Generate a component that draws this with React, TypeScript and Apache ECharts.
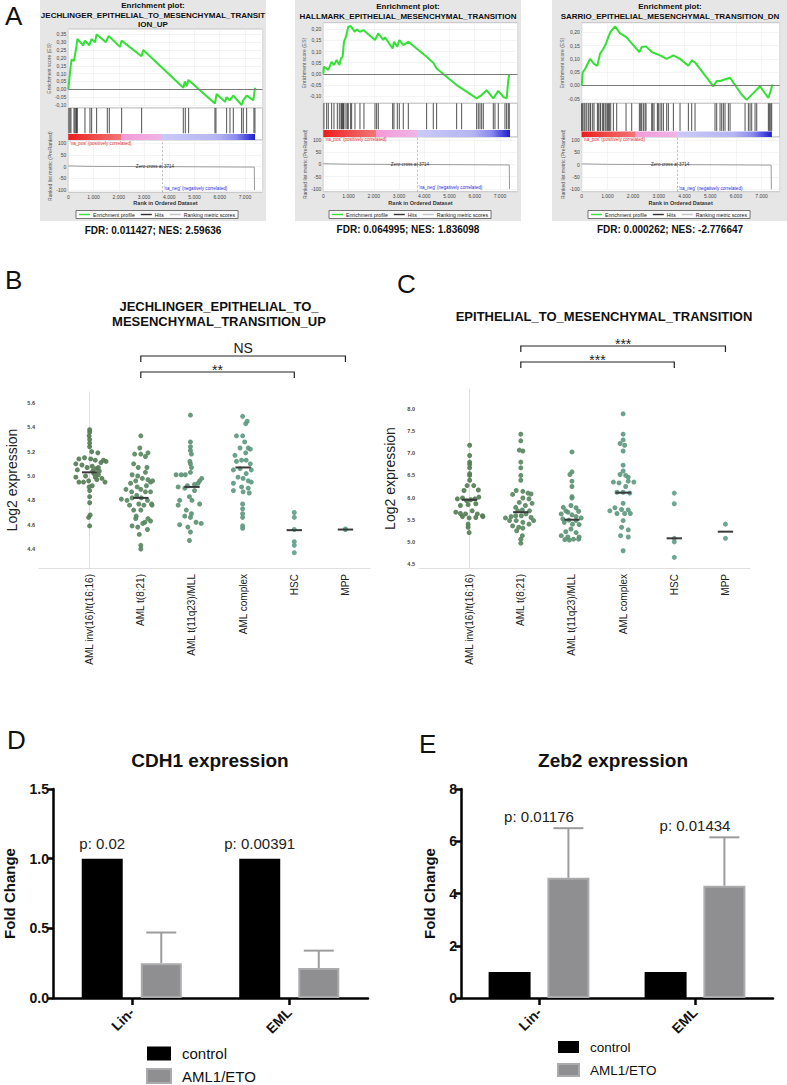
import React, { useEffect, useRef } from 'react';
import * as echarts from 'echarts';

const FONT = "'Liberation Sans', Arial, Helvetica, sans-serif";

// ================= Panel A : GSEA enrichment plots =================
const gseaTitles = [
  'Enrichment plot:\nJECHLINGER_EPITHELIAL_TO_MESENCHYMAL_TRANSIT\nION_UP',
  'Enrichment plot:\nHALLMARK_EPITHELIAL_MESENCHYMAL_TRANSITION',
  'Enrichment plot:\nSARRIO_EPITHELIAL_MESENCHYMAL_TRANSITION_DN',
];
const gseaStats = [
  'FDR: 0.011427; NES: 2.59636',
  'FDR: 0.064995; NES: 1.836098',
  'FDR: 0.000262; NES: -2.776647',
];
const esTicks1 = [-0.1, -0.05, 0, 0.05, 0.1, 0.15, 0.2, 0.25, 0.3, 0.35];
const esTicks2 = [-0.1, -0.05, 0, 0.05, 0.1, 0.15, 0.2];
const esTicks3 = [-0.05, 0, 0.05, 0.1, 0.15, 0.2];
const metricTicks = [-100, -50, 0, 50, 100];
const rankListSize = 7400;
const zeroCross = 3714;

const es1Rank = [0, 90, 130, 220, 300, 360, 590, 660, 830, 920, 1060, 1120, 1490, 1600, 2050, 2110, 2900, 2970, 4560, 4620, 4690, 4760, 5810, 5880, 6210, 6270, 6400, 6540, 6870, 6930, 7070, 7330, 7400];
const es1Score = [0, 0.14, 0.19, 0.18, 0.25, 0.32, 0.28, 0.31, 0.28, 0.32, 0.3, 0.35, 0.3, 0.34, 0.27, 0.31, 0.21, 0.25, 0.01, 0.05, 0.02, 0.06, -0.09, -0.03, -0.08, -0.05, -0.07, -0.04, -0.1, -0.07, -0.04, -0.07, 0.01];
const es2Rank = [0, 26, 198, 330, 423, 528, 634, 700, 766, 819, 898, 991, 1083, 1255, 1321, 1453, 1585, 2047, 2180, 2378, 2444, 2748, 2800, 2933, 3012, 3170, 3369, 4095, 4161, 4359, 4491, 5284, 5482, 6077, 6275, 6473, 6737, 6935, 7133, 7265, 7331, 7370];
const es2Score = [0, 0.032, 0.017, 0.054, 0.039, 0.062, 0.039, 0.069, 0.077, 0.144, 0.167, 0.212, 0.215, 0.189, 0.2, 0.189, 0.197, 0.152, 0.182, 0.152, 0.164, 0.114, 0.144, 0.122, 0.152, 0.129, 0.144, 0.077, 0.069, 0.05, 0.024, -0.051, -0.066, -0.111, -0.096, -0.074, -0.111, -0.077, -0.104, -0.111, -0.029, -0.002];
const es3Rank = [0, 39, 130, 195, 324, 480, 610, 713, 843, 947, 1038, 1128, 1297, 1492, 1725, 1946, 2244, 2335, 2503, 2724, 3048, 3307, 3567, 3826, 4150, 4280, 4410, 5123, 5253, 5383, 5772, 6226, 6420, 6550, 6745, 6939, 7263, 7354, 7420];
const es3Score = [0, 0.049, 0.062, 0.074, 0.1, 0.081, 0.074, 0.119, 0.138, 0.158, 0.183, 0.203, 0.222, 0.196, 0.183, 0.158, 0.126, 0.145, 0.147, 0.126, 0.113, 0.1, 0.113, 0.1, 0.074, 0.094, 0.087, -0.003, 0.017, 0.017, 0.029, -0.035, -0.054, -0.041, -0.022, -0.003, -0.047, -0.02, 0.004];

const hits1 = [26, 66, 106, 225, 264, 304, 330, 357, 660, 859, 925, 1123, 1546, 1625, 2114, 2906, 4557, 4637, 4769, 5812, 5852, 6275, 6407, 6539, 6869, 6935, 7067, 7357, 7397];
const hits2 = [26, 132, 198, 330, 423, 555, 634, 700, 727, 766, 793, 819, 898, 951, 991, 1083, 1123, 1255, 1453, 1612, 2048, 2114, 2180, 2748, 2801, 2933, 3012, 3170, 3369, 4095, 4359, 4491, 5284, 5482, 6077, 6143, 6209, 6275, 6341, 6737, 6803, 6935, 7199, 7265, 7331, 7371];
const hits3 = [0, 39, 91, 130, 195, 259, 324, 350, 428, 480, 610, 648, 713, 739, 817, 843, 908, 947, 999, 1038, 1077, 1128, 1232, 1362, 1725, 1946, 2244, 2296, 2335, 2399, 2464, 2503, 2724, 2763, 2815, 2944, 2983, 3048, 3113, 3178, 3307, 3372, 3567, 3826, 4150, 4280, 4410, 5188, 5253, 5383, 5447, 5512, 5577, 5707, 5772, 6356, 6485, 6550, 6615, 6745, 6810, 7263, 7302, 7354, 7393];

const metricRank = [0, 1000, 3714, 7370, 7380];
const metricValue = [3, 1, 0, -2, -100];
const metricNotes = ["'na_pos' (positively correlated)", 'Zero cross at 3714', "'na_neg' (negatively correlated)"];
const metricNoteRank = [0, 3714, 3714];
const metricNoteValue = [100, 0, -95];

// ================= Panels B / C : expression strip plots =================
const stripCategories = ['AML inv(16)/t(16;16)', 'AML t(8;21)', 'AML t(11q23)/MLL', 'AML complex', 'HSC', 'MPP'];
const bTicks = [4.4, 4.6, 4.8, 5.0, 5.2, 5.4, 5.6];
const cTicks = [4.5, 5.0, 5.5, 6.0, 6.5, 7.0, 7.5, 8.0];

const bVal0 = [5.38, 5.36, 5.33, 5.3, 5.27, 5.24, 5.2, 5.19, 5.15, 5.14, 5.14, 5.13, 5.13, 5.12, 5.11, 5.1, 5.09, 5.08, 5.07, 5.07, 5.06, 5.05, 5.04, 5.04, 5.02, 5.01, 5.0, 4.99, 4.99, 4.98, 4.97, 4.96, 4.95, 4.95, 4.95, 4.92, 4.91, 4.88, 4.83, 4.78, 4.68, 4.66, 4.59];
const bOff0 = [0, 0, -0.01, 0, 0, 0, 0.04, 0.16, -0.1, -0.21, 0.02, 0.11, 0.27, 0.32, 0.22, -0.27, -0.15, 0.05, 0.17, -0.05, 0.12, -0.24, 0.19, 0.06, 0.08, 0.17, -0.08, -0.27, 0.11, 0.24, 0.14, -0.02, 0.3, -0.21, -0.12, 0.05, -0.01, 0, 0, 0, 0.01, -0.02, 0];
const bVal1 = [5.33, 5.23, 5.19, 5.18, 5.18, 5.16, 5.1, 5.07, 5.07, 5.03, 5.01, 5.0, 4.98, 4.97, 4.95, 4.96, 4.96, 4.94, 4.92, 4.91, 4.89, 4.89, 4.87, 4.87, 4.87, 4.81, 4.8, 4.82, 4.84, 4.82, 4.8, 4.77, 4.77, 4.76, 4.76, 4.76, 4.72, 4.72, 4.67, 4.65, 4.65, 4.62, 4.63, 4.59, 4.58, 4.61, 4.56, 4.52, 4.43, 4.4];
const bOff1 = [0, -0.02, 0.14, -0.12, 0, 0.09, -0.14, -0.05, 0.12, 0.09, -0.17, -0.06, 0.03, 0.14, 0.19, 0.23, -0.1, -0.2, 0.11, -0.07, 0, -0.29, -0.18, 0.09, 0.19, -0.38, -0.27, -0.17, -0.08, 0.01, 0.13, 0.21, -0.04, -0.22, 0.06, 0.22, -0.14, 0, -0.09, -0.1, 0.14, 0.08, 0.19, -0.17, -0.06, 0.04, 0.13, -0.03, 0, 0];
const bVal2 = [5.5, 5.28, 5.24, 5.21, 5.18, 5.12, 5.1, 5.07, 5.03, 5.01, 5.01, 5.01, 4.96, 4.98, 4.94, 4.93, 4.92, 4.91, 4.9, 4.88, 4.83, 4.8, 4.8, 4.76, 4.77, 4.72, 4.69, 4.67, 4.66, 4.6, 4.58, 4.62, 4.61, 4.54, 4.47];
const bOff2 = [-0.03, -0.03, -0.03, -0.03, -0.01, -0.04, -0.03, -0.01, -0.03, -0.31, -0.21, -0.13, 0.15, 0.19, 0.12, 0.05, -0.09, -0.27, -0.14, 0.05, -0.05, -0.24, 0, -0.27, 0.15, -0.11, -0.01, -0.14, -0.03, -0.24, -0.08, 0.08, 0.18, -0.03, -0.05];
const bVal3 = [5.49, 5.45, 5.43, 5.33, 5.33, 5.28, 5.23, 5.23, 5.22, 5.17, 5.19, 5.13, 5.12, 5.13, 5.1, 5.05, 5.06, 5.05, 5.02, 4.99, 4.98, 4.96, 4.94, 4.95, 4.91, 4.9, 4.88, 4.87, 4.86, 4.77, 4.73, 4.69, 4.66, 4.59, 4.57];
const bOff3 = [-0.01, 0.08, 0.05, -0.01, -0.13, 0.03, -0.06, 0.1, 0.14, -0.16, 0.05, -0.03, -0.13, 0.06, 0.14, -0.19, -0.06, 0.16, 0.06, -0.1, 0, 0.1, -0.19, 0.16, -0.03, 0.1, -0.19, 0, 0.12, -0.01, -0.01, -0.01, -0.01, -0.01, -0.01];
const bVal4 = [4.7, 4.66, 4.56, 4.46, 4.43, 4.37];
const bOff4 = [0, 0, 0, 0, 0, 0];
const bVal5 = [4.56, 4.565];
const bOff5 = [0, 0];
const bMedians = [5.03, 4.82, 4.91, 5.07, 4.555, 4.56];
const bBracketFrom = [1, 1];
const bBracketTo = [5, 4];
const bBracketText = ['NS', '**'];

const cVal0 = [7.18, 6.95, 6.8, 6.75, 6.67, 6.54, 6.5, 6.39, 6.27, 6.27, 6.16, 6.17, 5.97, 5.99, 5.93, 5.95, 5.97, 6.01, 5.82, 5.84, 5.86, 5.67, 5.64, 5.63, 5.7, 5.63, 5.59, 5.57, 5.54, 5.55, 5.57, 5.4, 5.33, 5.21];
const cOff0 = [0, 0, 0, 0, 0, 0, 0, 0, -0.05, 0.08, -0.11, 0.17, -0.24, -0.14, -0.06, 0.02, 0.1, 0.18, -0.18, -0.03, 0.12, -0.27, -0.18, -0.08, 0.05, 0.15, 0.25, -0.14, -0.01, 0.12, 0.26, -0.03, -0.03, -0.01];
const cVal1 = [7.43, 7.28, 7.07, 7.05, 6.8, 6.67, 6.5, 6.39, 6.16, 6.14, 6.1, 6.08, 6.07, 5.99, 5.97, 5.89, 5.87, 5.82, 5.78, 5.7, 5.72, 5.7, 5.54, 5.57, 5.59, 5.59, 5.63, 5.55, 5.48, 5.48, 5.48, 5.44, 5.4, 5.36, 5.33, 5.31, 5.25, 5.14, 5.06, 4.97];
const cOff1 = [0, 0, -0.03, 0.04, 0, 0, 0, 0, -0.09, 0.04, 0.14, 0.2, -0.16, 0.04, 0.16, -0.03, 0.22, 0.09, -0.1, -0.06, 0.03, 0.17, -0.3, -0.19, -0.1, 0.01, 0.1, 0.2, 0.25, -0.22, -0.09, 0.04, 0.16, -0.16, -0.04, 0.04, -0.08, 0.03, 0, 0];
const cVal2 = [7.03, 6.58, 6.52, 6.37, 6.25, 6.02, 5.99, 5.82, 5.78, 5.77, 5.7, 5.69, 5.67, 5.63, 5.61, 5.57, 5.54, 5.52, 5.49, 5.48, 5.44, 5.4, 5.39, 5.29, 5.23, 5.21, 5.14, 5.11, 5.11, 5.06, 5.04, 5.06, 5.05];
const cOff2 = [0, 0, -0.04, 0, 0, 0, 0, -0.02, -0.17, 0.08, -0.12, 0.13, -0.08, -0.21, 0, 0.08, 0.18, -0.18, -0.06, 0.08, -0.15, 0.01, 0.14, -0.02, -0.12, 0.08, -0.21, -0.08, 0.14, 0.03, -0.05, 0.13, -0.14];
const cVal3 = [7.89, 7.43, 7.3, 7.22, 7.18, 7.05, 6.73, 6.6, 6.52, 6.5, 6.46, 6.35, 6.33, 6.37, 6.35, 6.25, 6.12, 6.12, 6.1, 5.87, 5.77, 5.73, 5.72, 5.7, 5.64, 5.64, 5.64, 5.48, 5.33, 5.27, 5.14, 5.11, 4.8];
const cOff3 = [0, 0, 0, -0.06, 0.03, 0, 0, 0, -0.06, 0.05, 0.1, -0.19, -0.08, 0.1, 0.21, 0.05, 0, -0.12, 0.13, 0, -0.16, -0.03, 0.1, -0.26, -0.12, 0.03, 0.14, 0, -0.03, 0.1, -0.05, 0.1, 0];
const cVal4 = [6.1, 5.86, 5.08, 5.0, 4.65];
const cOff4 = [0, 0, 0, 0, 0];
const cVal5 = [5.4, 5.08];
const cOff5 = [0, 0];
const cMedians = [5.95, 5.67, 5.5, 6.11, 5.08, 5.23];
const cBracketFrom = [1, 1];
const cBracketTo = [5, 4];
const cBracketText = ['***', '***'];

// ================= Panels D / E : qPCR fold change =================
const qpcrCategories = ['Lin-', 'EML'];
const cdh1Control = [1.0, 1.0];
const cdh1Aml = [0.25, 0.215];
const cdh1AmlUpper = [0.47, 0.34];
const cdh1P = ['p: 0.02', 'p: 0.00391'];
const zeb2Control = [1.0, 1.0];
const zeb2Aml = [4.6, 4.3];
const zeb2AmlUpper = [6.5, 6.15];
const zeb2P = ['p: 0.01176', 'p: 0.01434'];

// ---------------- layout (positions / styles) ----------------
const RANK_AXIS_MAX = 7700;
const gseaLayout = [
  { boxX: 40, boxW: 226, boxH: 221, cx: 153, titleY: 0.5, left: 68.3, width: 194.3, esTop: 29, esH: 79, esMin: -0.119, esMax: 0.384, hitsTop: 108, hitsH: 32, colorFrac: 0.19, rkTop: 140, rkH: 52.3, rkMin: -110, rkMax: 114, legendLeft: 76, statY: 230 },
  { boxX: 295, boxW: 226, boxH: 221, cx: 408, titleY: 1.5, left: 323.3, width: 194.3, esTop: 22.7, esH: 80.6, esMin: -0.133, esMax: 0.23, hitsTop: 103.3, hitsH: 33.7, colorFrac: 0.21, rkTop: 137, rkH: 54.7, rkMin: -111, rkMax: 112, legendLeft: 329, statY: 229 },
  { boxX: 552, boxW: 235, boxH: 221, cx: 670, titleY: 1.5, left: 581.7, width: 197.9, esTop: 22.7, esH: 80.6, esMin: -0.067, esMax: 0.236, hitsTop: 103.3, hitsH: 33.7, colorFrac: 0.16, rkTop: 137, rkH: 54.7, rkMin: -110, rkMax: 112, legendLeft: 588, statY: 229 },
];
const catColors = ['#557d55', '#5a8862', '#5c9474', '#5f9a82', '#62a08a', '#62a08a'];

function buildOption() {
  const grid: any[] = [];
  const xAxis: any[] = [];
  const yAxis: any[] = [];
  const series: any[] = [];
  const legend: any[] = [];
  const graphic: any[] = [];

  const addGrid = (g: any) => { grid.push(g); return grid.length - 1; };
  const addX = (a: any) => { xAxis.push(a); return xAxis.length - 1; };
  const addY = (a: any) => { yAxis.push(a); return yAxis.length - 1; };
  const txt = (text: string, x: number, y: number, size: number, extra: any = {}) => ({
    type: 'text', x, y,
    style: { text, fontFamily: FONT, fontSize: size, fill: '#111', align: 'left', verticalAlign: 'top', ...extra },
  });

  // ---------- Panel A ----------
  const esRanks = [es1Rank, es2Rank, es3Rank];
  const esScores = [es1Score, es2Score, es3Score];
  const esTicks = [esTicks1, esTicks2, esTicks3];
  const hitsAll = [hits1, hits2, hits3];
  const noteColors = ['#e23030', '#333333', '#2a2ae0'];

  graphic.push(txt('A', 5, 3, 26));
  gseaLayout.forEach((L, k) => {
    graphic.push({ type: 'rect', z: -100, shape: { x: L.boxX, y: 0, width: L.boxW, height: L.boxH }, style: { fill: '#e6e6e6' } });
    graphic.push(txt(gseaTitles[k], L.cx, L.titleY, 8, { fontWeight: 'bold', align: 'center', lineHeight: 9.7 }));
    graphic.push(txt(gseaStats[k], L.cx, L.statY, 10, { fontWeight: 'bold', align: 'center', verticalAlign: 'middle' }));

    const axisLbl = { fontFamily: FONT, fontSize: 5, color: '#444' };
    const split = { show: true, lineStyle: { color: '#ececec', width: 0.6 } };

    // enrichment score
    const g1 = addGrid({ left: L.left, top: L.esTop, width: L.width, height: L.esH, show: true, backgroundColor: '#fff', borderColor: '#b8b8b8', borderWidth: 0.8 });
    const x1 = addX({ type: 'value', gridIndex: g1, min: 0, max: RANK_AXIS_MAX, interval: 1000, axisLabel: { show: false }, axisTick: { show: false }, axisLine: { show: false }, splitLine: split });
    const y1 = addY({
      type: 'value', gridIndex: g1, min: L.esMin, max: L.esMax,
      axisLine: { show: false }, axisTick: { show: false, customValues: esTicks[k] },
      axisLabel: { ...axisLbl, margin: 2, customValues: esTicks[k], formatter: (v: number) => v.toFixed(2).replace('.', ',') },
      splitLine: split,
      name: 'Enrichment score (ES)', nameLocation: 'middle', nameGap: 17,
      nameTextStyle: { fontFamily: FONT, fontSize: 5, color: '#555' },
    });
    series.push({
      type: 'line', name: 'Enrichment profile', xAxisIndex: x1, yAxisIndex: y1,
      data: esRanks[k].map((r, i) => [r, esScores[k][i]]),
      symbol: 'none', lineStyle: { color: '#33e033', width: 2 }, itemStyle: { color: '#33e033' }, z: 4,
      markLine: { silent: true, symbol: 'none', label: { show: false }, lineStyle: { color: '#7a7a7a', width: 1, type: 'solid' }, data: [{ yAxis: 0 }] },
    });

    // hits + colour bar
    const g2 = addGrid({ left: L.left, top: L.hitsTop, width: L.width, height: L.hitsH, show: true, backgroundColor: '#fff', borderColor: '#b8b8b8', borderWidth: 0.8 });
    const x2 = addX({ type: 'value', gridIndex: g2, min: 0, max: RANK_AXIS_MAX, show: false });
    const y2 = addY({ type: 'value', gridIndex: g2, min: 0, max: 1, show: false });
    const cf = L.colorFrac;
    series.push({
      type: 'custom', name: 'Hits', xAxisIndex: x2, yAxisIndex: y2,
      data: hitsAll[k].map((r) => [r, 1]), encode: { x: 0, y: 1 }, itemStyle: { color: '#333' },
      renderItem: (_p: any, api: any) => {
        const a = api.coord([api.value(0), cf + 0.02]);
        const b = api.coord([api.value(0), 1]);
        return { type: 'line', shape: { x1: a[0], y1: a[1], x2: b[0], y2: b[1] }, style: { stroke: '#1c1c1c', lineWidth: 0.9, opacity: 0.85 } };
      },
    });
    series.push({
      type: 'custom', xAxisIndex: x2, yAxisIndex: y2, data: [[0, rankListSize]], encode: { x: [0, 1] },
      renderItem: (_p: any, api: any) => {
        const a = api.coord([api.value(0), 0]);
        const b = api.coord([api.value(1), cf]);
        return {
          type: 'rect', shape: { x: a[0], y: b[1], width: b[0] - a[0], height: a[1] - b[1] },
          style: {
            fill: new echarts.graphic.LinearGradient(0, 0, 1, 0, [
              { offset: 0, color: '#ec1c1c' }, { offset: 0.12, color: '#ee4646' }, { offset: 0.28, color: '#f07575' },
              { offset: 0.285, color: '#f29ad8' }, { offset: 0.5, color: '#f0b4e6' }, { offset: 0.505, color: '#cacaf8' },
              { offset: 0.8, color: '#b4b4f2' }, { offset: 0.9, color: '#8a8aee' }, { offset: 0.95, color: '#5252e2' }, { offset: 1, color: '#2020c4' },
            ]),
          },
        };
      },
    });

    // ranked list metric
    const g3 = addGrid({ left: L.left, top: L.rkTop, width: L.width, height: L.rkH, show: true, backgroundColor: '#fff', borderColor: '#b8b8b8', borderWidth: 0.8 });
    const x3 = addX({
      type: 'value', gridIndex: g3, min: 0, max: RANK_AXIS_MAX, interval: 1000,
      axisLine: { show: false }, axisTick: { show: false }, splitLine: split,
      axisLabel: { ...axisLbl, margin: 2, formatter: (v: number) => (v % 1000 !== 0 ? '' : v === 0 ? '0' : (v / 1000).toFixed(3)) },
      name: 'Rank in Ordered Dataset', nameLocation: 'middle', nameGap: 8,
      nameTextStyle: { fontFamily: FONT, fontSize: 5.5, fontWeight: 'bold', color: '#333' },
    });
    const y3 = addY({
      type: 'value', gridIndex: g3, min: L.rkMin, max: L.rkMax,
      axisLine: { show: false }, axisTick: { show: false, customValues: metricTicks },
      axisLabel: { ...axisLbl, margin: 2, customValues: metricTicks, formatter: (v: number) => String(v) },
      splitLine: split,
      name: 'Ranked list metric (PreRanked)', nameLocation: 'middle', nameGap: 14,
      nameTextStyle: { fontFamily: FONT, fontSize: 5, color: '#555' },
    });
    series.push({
      type: 'line', name: 'Ranking metric scores', xAxisIndex: x3, yAxisIndex: y3,
      data: metricRank.map((r, i) => [r, metricValue[i]]),
      symbol: 'none', lineStyle: { color: '#9a9a9a', width: 1 }, itemStyle: { color: '#c4c4c4' },
      markLine: { silent: true, symbol: 'none', label: { show: false }, lineStyle: { color: '#aaaaaa', width: 0.8, type: [2, 2] }, data: [{ xAxis: zeroCross }] },
    });
    series.push({
      type: 'custom', xAxisIndex: x3, yAxisIndex: y3, z: 6,
      data: metricNoteRank.map((r, i) => [r, metricNoteValue[i]]), encode: { x: 0, y: 1 },
      renderItem: (p: any, api: any) => {
        const i = p.dataIndex;
        const c = api.coord([api.value(0), api.value(1)]);
        return {
          type: 'text', x: i === 1 ? c[0] - 7 : c[0] + 1.5, y: c[1],
          style: { text: metricNotes[i], fontFamily: FONT, fontSize: 4.6, fill: noteColors[i], align: i === 1 ? 'center' : 'left', verticalAlign: 'middle' },
        };
      },
    });

    legend.push({
      left: L.legendLeft, top: 210.5, orient: 'horizontal', selectedMode: false,
      data: ['Enrichment profile', 'Hits', 'Ranking metric scores'],
      icon: 'rect', itemWidth: 11, itemHeight: 1.4, itemGap: 6, padding: [1.5, 3],
      borderColor: '#555', borderWidth: 0.8, backgroundColor: '#fafafa',
      textStyle: { fontFamily: FONT, fontSize: 5.2, color: '#222', padding: [0, 0, 0, -2] },
    });
  });

  // ---------- Panels B and C ----------
  const stripPanels = [
    { letter: 'B', letterX: 5, letterY: 267, title: 'JECHLINGER_EPITHELIAL_TO_\nMESENCHYMAL_TRANSITION_UP', titleX: 219, titleY: 298.5,
      left: 39, top: 392, yMin: 4.244, yMax: 5.69, ticks: bTicks, nameGap: 20,
      vals: [bVal0, bVal1, bVal2, bVal3, bVal4, bVal5], offs: [bOff0, bOff1, bOff2, bOff3, bOff4, bOff5], medians: bMedians,
      bFrom: bBracketFrom, bTo: bBracketTo, bText: bBracketText, bLevels: [36, 20] },
    { letter: 'C', letterX: 397, letterY: 271, title: 'EPITHELIAL_TO_MESENCHYMAL_TRANSITION', titleX: 604, titleY: 308.5,
      left: 419, top: 389, yMin: 4.41, yMax: 8.45, ticks: cTicks, nameGap: 22,
      vals: [cVal0, cVal1, cVal2, cVal3, cVal4, cVal5], offs: [cOff0, cOff1, cOff2, cOff3, cOff4, cOff5], medians: cMedians,
      bFrom: cBracketFrom, bTo: cBracketTo, bText: cBracketText, bLevels: [43, 27] },
  ];
  stripPanels.forEach((P) => {
    graphic.push(txt(P.letter, P.letterX, P.letterY, 26));
    graphic.push(txt(P.title, P.titleX, P.titleY, 13, { fontWeight: 'bold', align: 'center', lineHeight: 15 }));
    const g = addGrid({ left: P.left, top: P.top, width: 331, height: 568 - P.top });
    const xi = addX({
      type: 'value', gridIndex: g, min: -0.99, max: 5.48,
      axisLine: { show: true, lineStyle: { color: '#e0e0e0', width: 1 } }, axisTick: { show: false },
      splitLine: { show: false },
      axisLabel: { customValues: [0, 1, 2, 3, 4, 5], formatter: (v: number) => stripCategories[Math.round(v)] || '', rotate: 90, margin: 6, fontFamily: FONT, fontSize: 10, color: '#222' },
    });
    const yi = addY({
      type: 'value', gridIndex: g, min: P.yMin, max: P.yMax,
      axisLine: { show: true, lineStyle: { color: '#e0e0e0', width: 1 } },
      axisTick: { show: false, customValues: P.ticks }, splitLine: { show: false },
      axisLabel: { customValues: P.ticks, formatter: (v: number) => v.toFixed(1), margin: 4, fontFamily: FONT, fontSize: 5.5, color: '#444', fontWeight: 'bold' },
      name: 'Log2 expression', nameLocation: 'middle', nameGap: P.nameGap,
      nameTextStyle: { fontFamily: FONT, fontSize: 14, color: '#222' },
    });
    P.vals.forEach((vals, c) => {
      series.push({
        type: 'scatter', xAxisIndex: xi, yAxisIndex: yi, symbolSize: 5,
        itemStyle: { color: catColors[c], opacity: 0.92 },
        data: vals.map((v, i) => [c + P.offs[c][i], v]), z: 3,
      });
    });
    series.push({
      type: 'custom', xAxisIndex: xi, yAxisIndex: yi, z: 5,
      data: P.medians.map((m, c) => [c, m]), encode: { x: 0, y: 1 },
      renderItem: (_p: any, api: any) => {
        const a = api.coord([api.value(0) - 0.15, api.value(1)]);
        const b = api.coord([api.value(0) + 0.15, api.value(1)]);
        return { type: 'line', shape: { x1: a[0], y1: a[1], x2: b[0], y2: b[1] }, style: { stroke: '#3a3a3a', lineWidth: 2 } };
      },
    });
    series.push({
      type: 'custom', xAxisIndex: xi, yAxisIndex: yi, z: 5, clip: false,
      data: P.bFrom.map((f, i) => [f, P.bTo[i]]), encode: { x: [0, 1] },
      renderItem: (p: any, api: any) => {
        const i = p.dataIndex;
        const a = api.coord([api.value(0), P.yMax]);
        const b = api.coord([api.value(1), P.yMax]);
        const ly = a[1] - P.bLevels[i];
        const label = P.bText[i];
        return {
          type: 'group',
          children: [
            { type: 'polyline', shape: { points: [[a[0], ly + 6], [a[0], ly], [b[0], ly], [b[0], ly + 6]] }, style: { stroke: '#222', lineWidth: 1.2, fill: 'none' } },
            { type: 'text', x: (a[0] + b[0]) / 2, y: label[0] === '*' ? ly + 5 : ly - 1.5, style: { text: label, fontFamily: FONT, fontSize: 14, fill: '#222', align: 'center', verticalAlign: 'bottom' } },
          ],
        };
      },
    });
  });

  // ---------- Panels D and E ----------
  const barPanels = [
    { letter: 'D', letterX: 7, letterY: 727, title: 'CDH1 expression', titleX: 210, left: 53, width: 315, max: 1.5, interval: 0.5, fmt: (v: number) => v.toFixed(1),
      control: cdh1Control, aml: cdh1Aml, upper: cdh1AmlUpper, p: cdh1P, pOnBar: true, barWidth: 41, barGap: '44%', nameGap: 36,
      legend: { left: 146, top: 1046, itemWidth: 24, itemHeight: 14, itemGap: 7, fontSize: 15 } },
    { letter: 'E', letterX: 419, letterY: 731, title: 'Zeb2 expression', titleX: 613, left: 461, width: 312, max: 8, interval: 2, fmt: (v: number) => String(v),
      control: zeb2Control, aml: zeb2Aml, upper: zeb2AmlUpper, p: zeb2P, pOnBar: false, barWidth: 42, barGap: '40%', nameGap: 24,
      legend: { left: 557, top: 1040, itemWidth: 21, itemHeight: 12, itemGap: 9, fontSize: 13.5 } },
  ];
  barPanels.forEach((P) => {
    graphic.push(txt(P.letter, P.letterX, P.letterY, 26));
    graphic.push(txt(P.title, P.titleX, 760, 19, { fontWeight: 'bold', align: 'center', verticalAlign: 'middle' }));
    const g = addGrid({ left: P.left, top: 789, width: P.width, height: 209 });
    const axisLineStyle = { color: '#000', width: 2.5 };
    const xi = addX({
      type: 'category', gridIndex: g, data: qpcrCategories, boundaryGap: true,
      axisLine: { show: true, lineStyle: axisLineStyle },
      axisTick: { show: true, alignWithLabel: true, length: 7, lineStyle: axisLineStyle },
      axisLabel: { rotate: 45, margin: 12, fontFamily: FONT, fontSize: 14, fontWeight: 'bold', color: '#111' },
    });
    const yi = addY({
      type: 'value', gridIndex: g, min: 0, max: P.max, interval: P.interval,
      axisLine: { show: true, lineStyle: axisLineStyle },
      axisTick: { show: true, length: 6, lineStyle: axisLineStyle },
      splitLine: { show: false },
      axisLabel: { formatter: P.fmt, margin: 4, fontFamily: FONT, fontSize: 14, fontWeight: 'bold', color: '#111' },
      name: 'Fold Change', nameLocation: 'middle', nameGap: P.nameGap,
      nameTextStyle: { fontFamily: FONT, fontSize: 15, fontWeight: 'bold', color: '#111' },
    });
    series.push({
      type: 'bar', name: 'control', xAxisIndex: xi, yAxisIndex: yi, data: P.control,
      barWidth: P.barWidth, barGap: P.barGap, itemStyle: { color: '#000' },
      label: P.pOnBar
        ? { show: true, position: 'top', distance: 8, formatter: (p: any) => P.p[p.dataIndex], fontFamily: FONT, fontSize: 15, color: '#222' }
        : { show: false },
    });
    series.push({
      type: 'bar', name: 'AML1/ETO', xAxisIndex: xi, yAxisIndex: yi, data: P.aml,
      barWidth: P.barWidth, barGap: P.barGap, itemStyle: { color: '#8f8f92', borderColor: '#ababad', borderWidth: 2 },
    });
    const half = (P.barWidth * (1 + parseFloat(P.barGap) / 100) + P.barWidth) / 2 - P.barWidth / 2;
    series.push({
      type: 'custom', xAxisIndex: xi, yAxisIndex: yi, z: 6, clip: false,
      data: P.aml.map((m, i) => [i, m, P.upper[i]]), encode: { x: 0, y: [1, 2] },
      renderItem: (p: any, api: any) => {
        const base = api.coord([api.value(0), api.value(1)]);
        const top = api.coord([api.value(0), api.value(2)]);
        const x = base[0] + half;
        const children: any[] = [
          { type: 'line', shape: { x1: x, y1: base[1], x2: x, y2: top[1] }, style: { stroke: '#9c9c9e', lineWidth: 2 } },
          { type: 'line', shape: { x1: x - 15, y1: top[1], x2: x + 15, y2: top[1] }, style: { stroke: '#9c9c9e', lineWidth: 2 } },
        ];
        if (!P.pOnBar) {
          children.push({ type: 'text', x: base[0], y: top[1] - 12, style: { text: P.p[p.dataIndex], fontFamily: FONT, fontSize: 15, fill: '#222', align: 'center', verticalAlign: 'middle' } });
        }
        return { type: 'group', children };
      },
    });
    legend.push({
      left: P.legend.left, top: P.legend.top, orient: 'vertical', selectedMode: false, padding: 0,
      width: 160, height: 80,
      data: ['control', 'AML1/ETO'], icon: 'rect',
      itemWidth: P.legend.itemWidth, itemHeight: P.legend.itemHeight, itemGap: P.legend.itemGap,
      textStyle: { fontFamily: FONT, fontSize: P.legend.fontSize, lineHeight: P.legend.itemHeight, color: '#111', padding: [0, 0, 0, 6] },
    });
  });

  return {
    animation: false,
    backgroundColor: '#fff',
    textStyle: { fontFamily: FONT },
    grid, xAxis, yAxis, series, legend,
    graphic: { elements: graphic },
  };
}

export default function App() {
  const ref = useRef<HTMLDivElement>(null);
  useEffect(() => {
    const chart = echarts.init(ref.current as HTMLDivElement, null, { renderer: 'svg' });
    chart.setOption(buildOption() as any);
    return () => chart.dispose();
  }, []);
  return <div ref={ref} style={{ position: 'absolute', left: 0, top: 0, width: 787, height: 1085, background: '#fff' }} />;
}
